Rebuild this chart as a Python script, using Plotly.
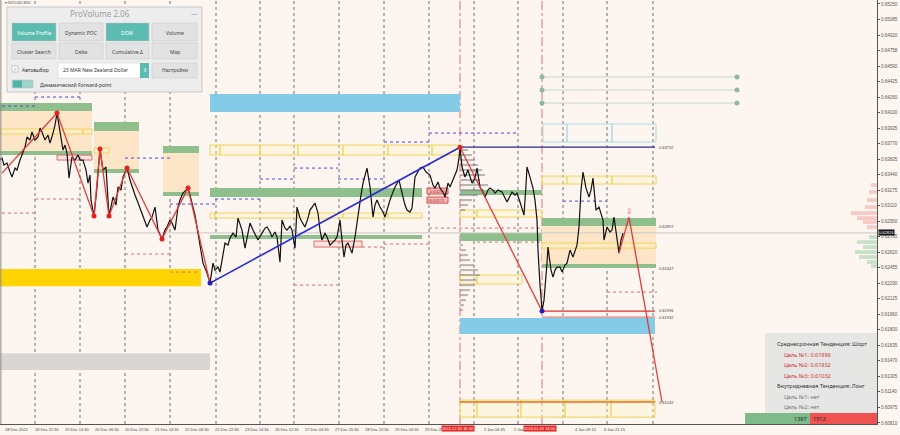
import plotly.graph_objects as go

# ---------------------------------------------------------------
# Price series (x = bar position on chart, p = price)
# ---------------------------------------------------------------
PRICE_X = [0, 2, 4, 7, 10, 12, 15, 17, 20, 22, 25, 27, 30, 32, 35, 38, 40, 42, 45, 48,
           50, 53, 55, 57, 60, 63, 65, 67, 69, 72, 75, 78, 80, 83, 86, 88, 90, 91, 94, 97,
           100, 103, 106, 108, 109, 113, 116, 118, 121, 123, 127, 130, 132, 135, 137, 140,
           142, 145, 147, 150, 152, 155, 158, 162, 165, 167, 170, 172, 175, 178, 180, 183,
           188, 190, 192, 195, 197, 200, 203, 205, 207, 210,
           213, 215, 218, 220, 222, 225, 228, 230, 233, 236, 238, 240, 242, 245, 248, 250,
           253, 256, 258, 262, 265, 267, 270, 272, 275, 277, 280, 282, 285, 287, 290, 292,
           295, 297, 300, 302, 305, 308, 310, 315, 318, 320, 322, 325, 327, 330, 332, 335,
           337, 340, 342, 344, 346, 348, 350, 352, 355, 358, 361, 363, 367, 370, 373, 375,
           377, 380, 383, 385, 388, 390, 393, 395, 399, 401, 403, 405, 407, 410, 412, 415,
           418, 420, 423, 426, 430, 433, 435, 438, 440, 443, 445, 448, 450, 453, 455, 457,
           459, 460,
           462, 465, 468, 470, 472, 475, 477, 480, 483, 485, 488, 490, 493, 495, 498, 502,
           505, 507, 510, 512, 515, 517, 520, 522, 524, 526, 527, 530, 533, 535, 537, 538,
           539, 540, 541, 542,
           544, 545, 547, 548, 550, 551, 553, 555, 557, 560, 562, 563, 565, 567, 570, 573,
           575, 577, 579, 581, 583, 586, 589, 591, 593, 596, 599, 601, 603, 604, 607, 610,
           612, 614, 617, 619, 621, 623]
PRICE_P = [0.63596, 0.63617, 0.63543, 0.63564, 0.63469, 0.63416, 0.63511, 0.63490, 0.63596, 0.63649,
           0.63734, 0.63840, 0.63808, 0.63893, 0.63808, 0.63840, 0.63935, 0.63893, 0.63808, 0.63861,
           0.63776, 0.63882, 0.63967, 0.64094, 0.63882, 0.63702, 0.63755, 0.63670, 0.63405, 0.63628,
           0.63596, 0.63649, 0.63596, 0.63596, 0.63490, 0.63352, 0.63437, 0.63172, 0.63002, 0.63310,
           0.63713, 0.63490, 0.63522, 0.63172, 0.63002, 0.63204, 0.63119, 0.63310, 0.63278, 0.63416,
           0.63511, 0.63384, 0.63310, 0.63225, 0.63172, 0.63087, 0.63034, 0.62960, 0.62886, 0.62960,
           0.62992, 0.63098, 0.62854, 0.62759, 0.62854, 0.62886, 0.62960, 0.62928, 0.62854, 0.63098,
           0.63172, 0.63246, 0.63299, 0.63225, 0.63140, 0.63013, 0.62886, 0.62716, 0.62504, 0.62451,
           0.62398, 0.62292,
           0.62504, 0.62430, 0.62462, 0.62409, 0.62536, 0.62716, 0.62695, 0.62769, 0.62822, 0.62780,
           0.62981, 0.62907, 0.62854, 0.62663, 0.62833, 0.62928, 0.62854, 0.62790, 0.62748, 0.62822,
           0.62875, 0.62886, 0.62833, 0.62780, 0.62833, 0.62780, 0.62515, 0.62960, 0.62875, 0.62854,
           0.62896, 0.62854, 0.62663, 0.63098, 0.62981, 0.62939, 0.62886, 0.62981, 0.63066, 0.63140,
           0.63034, 0.62854, 0.62748, 0.62822, 0.62780, 0.62695, 0.62716, 0.62748, 0.62780, 0.62960,
           0.62748, 0.62568, 0.62695, 0.62716, 0.62663, 0.62610, 0.62780, 0.63034, 0.63225, 0.63352,
           0.63511, 0.63310, 0.62992, 0.63119, 0.63172, 0.63098, 0.63045, 0.62992, 0.63119, 0.63172,
           0.63257, 0.63310, 0.63384, 0.63278, 0.63204, 0.63119, 0.63066, 0.63045, 0.63087, 0.63416,
           0.63469, 0.63511, 0.63522, 0.63469, 0.63437, 0.63331, 0.63299, 0.63363, 0.63299, 0.63257,
           0.63204, 0.63352, 0.63310, 0.63384, 0.63437, 0.63490, 0.63617, 0.63732,
           0.63522, 0.63416, 0.63490, 0.63405, 0.63352, 0.63405, 0.63511, 0.63310, 0.63257, 0.63204,
           0.63278, 0.63299, 0.63278, 0.63246, 0.63278, 0.63257, 0.63193, 0.63151, 0.63214, 0.63257,
           0.63225, 0.63246, 0.63151, 0.63087, 0.63013, 0.63331, 0.63522, 0.63416, 0.63299, 0.63172,
           0.62960, 0.62642, 0.62398, 0.62271, 0.62144, 0.61996,
           0.62112, 0.62218, 0.62504, 0.62674, 0.62515, 0.62430, 0.62356, 0.62430, 0.62462, 0.62462,
           0.62409, 0.62430, 0.62483, 0.62504, 0.62642, 0.62568, 0.62642, 0.62695, 0.62886, 0.63278,
           0.63469, 0.63299, 0.63204, 0.63278, 0.63405, 0.63066, 0.63098, 0.63013, 0.62960, 0.62748,
           0.62886, 0.62833, 0.62854, 0.62992, 0.62748, 0.62610, 0.62748, 0.62822]

# zigzag swings
ZZ_RED_X = [2, 57, 94, 100, 109, 127, 162, 188, 210]
ZZ_RED_P = [0.63458, 0.64094, 0.63002, 0.63713, 0.63002, 0.63511, 0.62759, 0.63299, 0.62292]
ZZ_BLUE_X = [210, 460]
ZZ_BLUE_P = [0.62292, 0.63732]
ZZ_DOWN_X = [460, 542]
ZZ_DOWN_P = [0.63732, 0.61996]
PROJ_X = [619, 629, 662]
PROJ_P = [0.62610, 0.62992, 0.61032]

CURRENT_PRICE = 0.62824

# zones (x0, x1, price_low, price_high)
GREEN_ZONES = [(0, 92, 0.64115, 0.64200), (0, 92, 0.63649, 0.63692),
               (94, 139, 0.63903, 0.63999), (94, 139, 0.63458, 0.63501),
               (163, 199, 0.63670, 0.63744), (163, 199, 0.63214, 0.63257),
               (210, 422, 0.63204, 0.63299), (210, 422, 0.62759, 0.62801),
               (460, 542, 0.63225, 0.63278), (460, 542, 0.62737, 0.62822),
               (542, 656, 0.62896, 0.62981), (542, 656, 0.62451, 0.62494)]
BEIGE_ZONES = [(0, 92, 0.63692, 0.64115), (94, 139, 0.63501, 0.63903),
               (163, 199, 0.63257, 0.63670), (542, 656, 0.62494, 0.62896)]
BLUE_BANDS = [(210, 460, 0.64105, 0.64296), (460, 655, 0.61752, 0.61921)]
GOLD_BANDS = [(0, 201, 0.62260, 0.62441)]
GRAY_BANDS = [(0, 210, 0.61370, 0.61550)]
RED_BOXES = [(57, 92, 0.63596, 0.63649), (314, 362, 0.62674, 0.62737)]
RED_TAGS = [(427, 448, 0.63236, 0.63299, "0.63290"), (427, 448, 0.63140, 0.63204, "0.63172")]

# outline rows: (price_low, price_high, breakpoints)
YELLOW_ROWS = [(0.63872, 0.63925, [0, 83, 92]),
               (0.63670, 0.63723, [94, 109]),
               (0.63649, 0.63755, [210, 220, 260, 298, 343, 388, 432, 460]),
               (0.62981, 0.63034, [210, 215, 298, 343, 388, 422]),
               (0.62992, 0.63066, [460, 477, 542]),
               (0.62282, 0.62377, [460, 477, 522]),
               (0.63342, 0.63426, [542, 567, 612, 656]),
               (0.62663, 0.62716, [542, 656]),
               (0.60872, 0.61052, [460, 477, 521, 565, 611, 655])]
LIGHTBLUE_ROWS = [(0.63787, 0.63978, [543, 567, 612, 656])]

# daily dotted levels (x0, x1, price)
BLUE_DOTTED = [(2, 35, 0.64168), (35, 80, 0.64264), (125, 170, 0.63617), (170, 215, 0.63130),
               (215, 260, 0.63183), (260, 294, 0.63395), (294, 338, 0.63511),
               (338, 384, 0.63395), (384, 429, 0.63787), (429, 518, 0.63882), (563, 607, 0.63161)]
RED_DOTTED = [(2, 35, 0.63034), (35, 80, 0.63183), (125, 170, 0.62600), (170, 200, 0.62409),
              (294, 338, 0.62271), (362, 384, 0.62674), (384, 429, 0.62706),
              (429, 542, 0.62875), (477, 543, 0.62727), (607, 657, 0.62197)]
FWD_LEVELS = [0.64476, 0.64338, 0.64200]

# target lines
TARGET_LEVELS = [0.63732, 0.61996, 0.61932, 0.61032]
TARGET_X0 = [460, 542, 542, 460]
TARGET_COLORS = ["#2a2a8a", "#d83030", "#e08080", "#e07020"]
LEVEL_LABELS = ["0.63732", "0.62897", "0.62447", "0.61996", "0.61932", "0.61032"]
LEVEL_LABEL_P = [0.63732, 0.62897, 0.62447, 0.62000, 0.61925, 0.61032]

# volume profile
VP_P = [0.63702, 0.63649, 0.63596, 0.63543, 0.63490, 0.63437, 0.63384, 0.63331, 0.63278,
        0.63225, 0.63172, 0.63119, 0.63066, 0.62695, 0.62642, 0.62589, 0.62536, 0.62483,
        0.62430, 0.62377, 0.62324, 0.62271, 0.62218, 0.62165, 0.62112, 0.62059, 0.62006]
VP_LEN = [8, 12, 15, 18, 22, 25, 20, 28, 24, 18, 12, 8, 5, 3, 6, 8, 10, 14, 18, 20, 16, 14,
          10, 8, 6, 4, 3]
EDGE_SELL_P = [0.63331, 0.63257, 0.63172, 0.63098, 0.63034, 0.62981, 0.62939, 0.62886]
EDGE_SELL_LEN = [6, 8, 10, 12, 26, 20, 14, 10]
EDGE_BUY_P = [0.62780, 0.62727, 0.62674, 0.62621, 0.62568, 0.62515, 0.62473]
EDGE_BUY_LEN = [8, 20, 14, 22, 18, 10, 6]

VLINES_DOT = [35, 80, 125, 170, 216, 260, 294, 339, 384, 429, 474, 518, 563, 607, 653]
VLINES_SESSION = [460, 542]

Y_TICKS = [0.65250, 0.65085, 0.64920, 0.64758, 0.64590, 0.64425, 0.64260, 0.64100, 0.63935,
           0.63770, 0.63605, 0.63440, 0.63275, 0.63110, 0.62950, 0.62785, 0.62620, 0.62455,
           0.62290, 0.62125, 0.61960, 0.61800, 0.61635, 0.61470, 0.61305, 0.61140, 0.60975,
           0.60810]
X_LABELS = ["18 Dec 2022", "18 Dec 22:30", "19 Dec 14:30", "20 Dec 06:30", "20 Dec 22:30",
            "21 Dec 14:30", "22 Dec 06:30", "22 Dec 22:30", "23 Dec 14:30", "26 Dec 12:30",
            "27 Dec 04:30", "27 Dec 20:30", "28 Dec 12:30", "29 Dec 04:30", "29 Dec 20:30"]
X_LABELS_RIGHT = [(482, "2 Jan 04:45"), (512, "2 Jan"), (573, "4 Jan 09:15"), (602, "4 Jan 21:15")]
X_LABELS_RED = [(441, "2022.12.30 16:30"), (523, "2023.01.03 13:00")]

W, H = 877, 424
P_LO, P_HI = 0.60799, 0.65292
BG = "#fdf5ef"
FONT = "Liberation Sans"

shapes, annots = [], []


def px(x):
    return x / W


def py(y):
    return 1 - y / H


def rect(x0, x1, p0, p1, fill, line="rgba(0,0,0,0)", lw=0, layer="below"):
    shapes.append(dict(type="rect", xref="x", yref="y", x0=x0, x1=x1, y0=p0, y1=p1,
                       fillcolor=fill, line=dict(color=line, width=lw), layer=layer))


def hline(x0, x1, p, color, width=1, dash="solid"):
    shapes.append(dict(type="line", xref="x", yref="y", x0=x0, x1=x1, y0=p, y1=p,
                       line=dict(color=color, width=width, dash=dash), layer="below"))


def ui_rect(x0, y0, x1, y1, fill, line="rgba(0,0,0,0)", lw=0):
    shapes.append(dict(type="rect", xref="paper", yref="paper", x0=px(x0), x1=px(x1),
                       y0=py(y1), y1=py(y0), fillcolor=fill, line=dict(color=line, width=lw),
                       layer="above"))


def ui_text(x, y, text, size=5, color="#333", anchor="center", family="Noto Sans"):
    annots.append(dict(xref="paper", yref="paper", x=px(x), y=py(y), text=text,
                       showarrow=False, xanchor=anchor, yanchor="middle",
                       font=dict(size=size, color=color, family=family)))


# ═══════════════ zones ═══════════════
for x0, x1, a, b in BEIGE_ZONES:
    rect(x0, x1, a, b, "#fde6c8")
for x0, x1, a, b in GREEN_ZONES:
    rect(x0, x1, a, b, "#8fbf8c")
for x0, x1, a, b in BLUE_BANDS:
    rect(x0, x1, a, b, "#84cbe8")
for x0, x1, a, b in GOLD_BANDS:
    rect(x0, x1, a, b, "#ffd400")
for x0, x1, a, b in GRAY_BANDS:
    rect(x0, x1, a, b, "#d9d6d4")
for a, b, xs in YELLOW_ROWS:
    for x0, x1 in zip(xs[:-1], xs[1:]):
        rect(x0, x1, a, b, "rgba(255,245,200,0.35)", "#f0d45a", 1)
for a, b, xs in LIGHTBLUE_ROWS:
    for x0, x1 in zip(xs[:-1], xs[1:]):
        rect(x0, x1, a, b, "rgba(0,0,0,0)", "#a9dbe3", 1)
for x0, x1, a, b in RED_BOXES:
    rect(x0, x1, a, b, "rgba(240,150,150,0.2)", "#e06a6a", 1)
for x0, x1, a, b, t in RED_TAGS:
    rect(x0, x1, a, b, "rgba(240,120,120,0.45)", "#d84a4a", 1)
    annots.append(dict(x=(x0 + x1) / 2, y=(a + b) / 2, text=t, showarrow=False,
                       font=dict(size=4, color="#9a1c1c", family=FONT)))

for x0, x1, p in BLUE_DOTTED:
    hline(x0, x1, p, "#4a4ad8", 1, "dot")
for x0, x1, p in RED_DOTTED:
    hline(x0, x1, p, "#d07070", 1, "dot")
for p in FWD_LEVELS:
    hline(542, 737, p, "#c9d6cf", 1)

# grid / session lines
for x in VLINES_DOT:
    shapes.append(dict(type="line", xref="x", yref="paper", x0=x, x1=x, y0=0, y1=1,
                       line=dict(color="#707070", width=1, dash="dot"), layer="below"))
for x in VLINES_SESSION:
    shapes.append(dict(type="line", xref="x", yref="paper", x0=x, x1=x, y0=0, y1=1,
                       line=dict(color="#e07070", width=1, dash="dashdot"), layer="below"))
hline(0, W, CURRENT_PRICE, "#c8c8c8", 1)
shapes.append(dict(type="line", xref="paper", yref="paper", x0=0.001, x1=0.001, y0=0, y1=1,
                   line=dict(color="#8a8a8a", width=1)))

for p, x0, c in zip(TARGET_LEVELS, TARGET_X0, TARGET_COLORS):
    hline(x0, 655, p, c, 1.3)
for t, p in zip(LEVEL_LABELS, LEVEL_LABEL_P):
    annots.append(dict(x=657, y=p, text=t, showarrow=False, xanchor="left",
                       font=dict(size=4, color="#444", family=FONT)))

fig = go.Figure()

# ═══════════════ volume profiles ═══════════════
fig.add_trace(go.Bar(y=VP_P, x=VP_LEN, base=460, orientation="h", width=0.00022,
                     marker=dict(color="rgba(120,120,120,0.5)", line_width=0)))
fig.add_trace(go.Bar(y=EDGE_SELL_P, x=[-v for v in EDGE_SELL_LEN], base=W, orientation="h",
                     width=0.0004, marker=dict(color="rgba(240,150,150,0.45)", line_width=0)))
fig.add_trace(go.Bar(y=EDGE_BUY_P, x=[-v for v in EDGE_BUY_LEN], base=W, orientation="h",
                     width=0.0004, marker=dict(color="rgba(140,200,150,0.45)", line_width=0)))

# ═══════════════ price & zigzag ═══════════════
fig.add_trace(go.Scatter(x=PRICE_X, y=PRICE_P, mode="lines",
                         line=dict(color="#111", width=1.2)))
fig.add_trace(go.Scatter(x=ZZ_RED_X, y=ZZ_RED_P, mode="lines",
                         line=dict(color="#e23a3a", width=1.3)))
fig.add_trace(go.Scatter(x=ZZ_DOWN_X, y=ZZ_DOWN_P, mode="lines",
                         line=dict(color="#e23a3a", width=1.3)))
fig.add_trace(go.Scatter(x=ZZ_BLUE_X, y=ZZ_BLUE_P, mode="lines",
                         line=dict(color="#2727d8", width=1.6)))
fig.add_trace(go.Scatter(x=PROJ_X, y=PROJ_P, mode="lines",
                         line=dict(color="#e23a3a", width=1.3)))
fig.add_trace(go.Scatter(x=ZZ_RED_X[1:-1] + [460], y=ZZ_RED_P[1:-1] + [0.63732], mode="markers",
                         marker=dict(color="#e62020", size=5)))
fig.add_trace(go.Scatter(x=[210, 542], y=[0.62292, 0.61996], mode="markers",
                         marker=dict(color="#2020c0", size=5)))
fig.add_trace(go.Scatter(x=[542, 737, 542, 737, 542, 737],
                         y=[FWD_LEVELS[0], FWD_LEVELS[0], FWD_LEVELS[1], FWD_LEVELS[1],
                            FWD_LEVELS[2], FWD_LEVELS[2]], mode="markers",
                         marker=dict(color="#8fb8a8", size=5)))
annots.append(dict(x=629, y=0.63060, text="⇩", showarrow=False,
                   font=dict(size=8, color="#e05050")))

# ═══════════════ ProVolume panel ═══════════════
ui_rect(7, 7, 202, 92, "rgba(236,236,236,0.95)", "#c8c8c8", 1)
ui_text(100, 13, "ProVolume 2.06", 8, "#a0a0a0")
ui_text(194, 14, "—", 6, "#888")
buttons = [("Volume Profile", True), ("Dynamic POC", False), ("DOM", True), ("Volume", False),
           ("Cluster Search", False), ("Delta", False), ("Cumulative Δ", False), ("Map", False)]
bx = [(12, 56), (59, 103), (106, 149), (152, 197)]
for i, (label, on) in enumerate(buttons):
    x0, x1 = bx[i % 4]
    y0, y1 = (23, 41) if i < 4 else (43, 59)
    ui_rect(x0, y0, x1, y1, "#5cbcaf" if on else "#e2e2e2", "#c4c4c4", 0.5)
    ui_text((x0 + x1) / 2, (y0 + y1) / 2 + 1, label, 5, "#ffffff" if on else "#444")
ui_rect(12, 66, 18, 72, "#ffffff", "#999", 0.5)
ui_text(15, 68.5, "✓", 5, "#3aa")
ui_text(20, 70, "Автовыбор", 5, "#333", "left")
ui_rect(58, 63, 140, 78, "#ffffff", "#ccc", 0.5)
ui_text(61, 70.5, "23 MAR New Zealand Dollar", 5, "#333", "left")
ui_rect(140, 63, 149, 78, "#5cbcaf")
ui_text(144.5, 70.5, "⇕", 5, "#fff")
ui_rect(152, 63, 197, 78, "#e2e2e2", "#c4c4c4", 0.5)
ui_text(174.5, 70.5, "Настройки", 5, "#444")
ui_rect(12, 80, 33, 88, "#9fd3cb", "#bbb", 0.5)
ui_rect(13, 80.5, 22, 87.5, "#4fb3a6")
ui_text(38, 84.5, "Динамический Forward-point", 5, "#333", "left")
ui_text(3, 3, "▾ NZDUSD,M30", 3.5, "#555", "left", FONT)

# ═══════════════ info box ═══════════════
ui_rect(765, 333, 877, 413, "rgba(228,228,228,0.92)")
info = [("Среднесрочная Тенденция: Шорт", "#333", 775),
        ("Цель №1: 0.61996", "#d03030", 782), ("Цель №2: 0.61932", "#d03030", 782),
        ("Цель №3: 0.61032", "#d03030", 782),
        ("Внутридневная Тенденция: Лонг", "#333", 775),
        ("Цель №1: нет", "#777", 782), ("Цель №2: нет", "#777", 782)]
for k, (t, c, x) in enumerate(info):
    ui_text(x, 344 + k * 10.5, t, 5.5, c, "left")
ui_rect(745, 413, 810, 424, "#7dbb8a")
ui_rect(810, 413, 877, 424, "#f05252")
ui_text(809, 419, "1397", 5.5, "#222", "right")
ui_text(811, 419, "1513", 5.5, "#222", "left")

# ═══════════════ axis labels ═══════════════
for k, t in enumerate(X_LABELS):
    annots.append(dict(xref="x", yref="paper", x=3 + 30 * k, y=0, yshift=-1, text=t,
                       showarrow=False, xanchor="left", yanchor="top",
                       font=dict(size=4, color="#444", family=FONT)))
for x, t in X_LABELS_RIGHT:
    annots.append(dict(xref="x", yref="paper", x=x, y=0, yshift=-1, text=t,
                       showarrow=False, xanchor="left", yanchor="top",
                       font=dict(size=4, color="#444", family=FONT)))
for x, t in X_LABELS_RED:
    annots.append(dict(xref="x", yref="paper", x=x, y=0, yshift=-1, text=t,
                       showarrow=False, xanchor="left", yanchor="top", bgcolor="#ee2222",
                       borderpad=0, font=dict(size=4, color="#ffffff", family=FONT)))
annots.append(dict(xref="paper", yref="y", x=1, y=CURRENT_PRICE, text="0.62824",
                   showarrow=False, xanchor="left", xshift=1, bgcolor="#111", borderpad=0,
                   font=dict(size=4, color="#fff", family=FONT)))

fig.update_layout(
    width=900, height=435, autosize=False,
    margin=dict(l=0, r=23, t=0, b=11),
    paper_bgcolor=BG, plot_bgcolor=BG,
    showlegend=False, barmode="overlay",
    shapes=shapes, annotations=annots,
    xaxis=dict(range=[0, W], showgrid=False, zeroline=False, showticklabels=False,
               showline=True, linecolor="#555", linewidth=1, fixedrange=True),
    yaxis=dict(range=[P_LO, P_HI], side="right", showgrid=False, zeroline=False,
               tickvals=Y_TICKS, ticktext=[f"{v:.5f}" for v in Y_TICKS],
               ticks="outside", ticklen=2, tickcolor="#555",
               tickfont=dict(size=4.5, color="#555", family=FONT),
               showline=True, linecolor="#555", linewidth=1, fixedrange=True),
)

fig.write_html("out.html", config={"displayModeBar": False},
               post_script="document.body.style.margin='0';"
                           "document.body.style.overflow='hidden';")
